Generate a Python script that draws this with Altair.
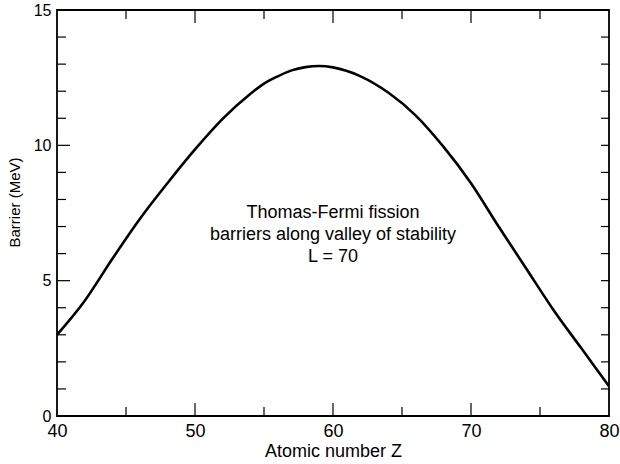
import altair as alt
import pandas as pd

# Curve: Thomas-Fermi fission barrier vs atomic number Z
z_values = [40, 42, 44, 46, 48, 50, 52, 54, 55, 56, 57, 58, 59, 60, 62, 64, 66, 68, 70, 72, 74, 76, 78, 80]
barrier = [3.0, 4.25, 5.8, 7.28, 8.6, 9.85, 10.98, 11.9, 12.28, 12.55, 12.77, 12.89, 12.93, 12.88, 12.55, 11.95, 11.1, 9.95, 8.6, 7.0, 5.45, 3.9, 2.5, 1.1]

x_label_values = [40, 50, 60, 70, 80]
y_label_values = [0, 5, 10, 15]
x_minor_ticks = [45, 55, 65, 75]
x_major_ticks = [50, 60, 70]
y_minor_ticks = [1, 2, 3, 4, 6, 7, 8, 9, 11, 12, 13, 14]
y_major_ticks = [5, 10]
y_right_ticks = [1, 2, 3, 4, 5, 6, 7, 8, 9, 10, 11, 12, 13, 14]

annotation = "Thomas-Fermi fission\nbarriers along valley of stability\nL = 70"
ann_x, ann_y = 60, 7.49  # position of the first line

W, H = 552, 406
FONT = "Liberation Sans"

xs = alt.Scale(domain=[40, 80], nice=False, zero=False)
ys = alt.Scale(domain=[0, 15], nice=False, zero=False)

x_axis = alt.Axis(values=x_label_values, format="d")
y_axis = alt.Axis(values=y_label_values, format="d")

X = lambda: alt.X("Z:Q", scale=xs, axis=x_axis, title="Atomic number Z")
Y = lambda: alt.Y("B:Q", scale=ys, axis=y_axis, title="Barrier (MeV)")

curve_df = pd.DataFrame({"Z": z_values, "B": barrier})

line = alt.Chart(curve_df).mark_line(
    color="black", strokeWidth=2.6, interpolate="monotone", clip=True
).encode(x=X(), y=Y())


def xticks(vals, length, top):
    df = pd.DataFrame({"Z": vals})
    if top:
        y0, y1 = 0, length
    else:
        y0, y1 = H, H - length
    return alt.Chart(df).mark_rule(color="black", strokeWidth=1.2).encode(
        x=X(), y=alt.value(y0), y2=alt.value(y1))


def yticks(vals, length, right):
    df = pd.DataFrame({"B": vals})
    if right:
        x0, x1 = W, W - length
    else:
        x0, x1 = 0, length
    return alt.Chart(df).mark_rule(color="black", strokeWidth=1.2).encode(
        y=Y(), x=alt.value(x0), x2=alt.value(x1))


ann_df = pd.DataFrame({"Z": [ann_x], "B": [ann_y], "t": [annotation]})
text = alt.Chart(ann_df).mark_text(
    font=FONT, fontSize=18, color="black", align="center", baseline="middle",
    lineBreak="\n", lineHeight=22
).encode(x=X(), y=Y(), text="t:N")

chart = alt.layer(
    line,
    xticks(x_minor_ticks, 9, False), xticks(x_major_ticks, 13, False),
    xticks(x_minor_ticks, 9, True), xticks(x_major_ticks, 13, True),
    yticks(y_minor_ticks, 9, False), yticks(y_major_ticks, 13, False),
    yticks(y_right_ticks, 8, True),
    text,
).properties(
    width=W, height=H,
    background="white",
    autosize=alt.AutoSizeParams(type="none"),
    padding={"left": 57, "top": 10, "right": 11, "bottom": 48},
).configure_view(
    stroke="black", strokeWidth=1.8
).configure_axis(
    ticks=False, tickSize=0, domain=False, grid=False, labelFlush=False,
    labelColor="black", titleColor="black", labelFont=FONT, titleFont=FONT,
    titleFontWeight="normal", labelOverlap=False,
).configure_axisX(
    labelFontSize=18, labelPadding=6, titleFontSize=18, titlePadding=2,
).configure_axisY(
    labelFontSize=16, labelPadding=6, titleFontSize=15, titlePadding=11, titleY=192,
)

chart.save("out.html", embed_options={"renderer": "svg", "actions": False})
